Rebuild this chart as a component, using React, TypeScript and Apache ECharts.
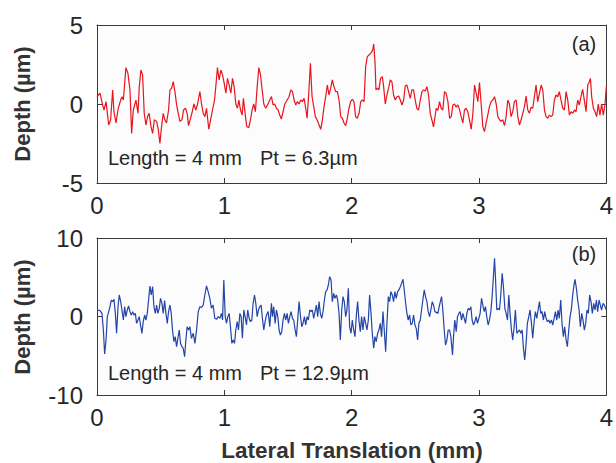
import React, { useEffect, useRef } from "react";
import * as echarts from "echarts";

// Profile (a): [lateral position (mm), depth (µm)]
const profileA: [number, number][] = [
  [0, 0.46], [0.024, 0.68], [0.044, -0.06], [0.055, -0.38], [0.071, 0.15], [0.092, -1.33], [0.107, -1.0], [0.123, 0.89], [0.133, -0.49], [0.149, -1.2],
  [0.167, -0.27], [0.186, 0.25], [0.196, 0.46], [0.207, 0.25], [0.227, 2.3], [0.243, 1.94], [0.259, 0.89], [0.272, -1.86], [0.285, -0.38], [0.306, 0.25],
  [0.322, -0.59], [0.332, 1.1], [0.345, 2.15], [0.358, 1.84], [0.371, -0.59], [0.384, -1.33], [0.397, -0.8], [0.41, -0.59], [0.424, -1.43], [0.437, -1.86],
  [0.45, -1.0], [0.468, -1.1], [0.481, -1.6], [0.494, -2.49], [0.507, -1.43], [0.52, -0.59], [0.533, -1.0], [0.546, -1.2], [0.562, -0.38], [0.573, 0.89],
  [0.586, 1.0], [0.599, 1.41], [0.612, 0.78], [0.625, -0.04], [0.638, -0.59], [0.651, -1.1], [0.667, -1.0], [0.68, -0.38], [0.695, -0.27], [0.708, -0.59],
  [0.719, -1.37], [0.735, -0.9], [0.748, -0.49], [0.761, 0], [0.776, -0.38], [0.79, 0], [0.808, 0.78], [0.821, 0], [0.834, -0.59], [0.847, -0.8],
  [0.86, -0.27], [0.878, -1.6], [0.892, -1.0], [0.907, -0.38], [0.923, 0.25], [0.933, 1.1], [0.946, 2.3], [0.959, 1.52], [0.973, 2.15], [0.986, 1.84],
  [0.999, 1.3], [1.012, 0.68], [1.025, 1.62], [1.038, 1.2], [1.051, 0.68], [1.064, 1.62], [1.077, 1.1], [1.09, 0], [1.103, -0.27], [1.114, 0.25],
  [1.127, -0.38], [1.14, -0.7], [1.15, 0.36], [1.163, -0.59], [1.176, -1.43], [1.192, -1.5], [1.205, -1.0], [1.218, -0.38], [1.231, 0], [1.244, -0.49],
  [1.258, 1.1], [1.271, 2.3], [1.284, 1.84], [1.297, 0.89], [1.31, 0], [1.325, -0.27], [1.339, -0.06], [1.357, 0.25],
  [1.37, 0.47], [1.383, -0.06], [1.396, 0], [1.409, -0.27], [1.422, -0.38], [1.435, -0.7], [1.448, -0.95], [1.461, -0.49], [1.475, 0], [1.493, 0.25],
  [1.508, 0.46], [1.522, 0.89], [1.535, 0.78], [1.548, 0.25], [1.561, -0.06], [1.574, 0.15], [1.587, 0], [1.6, 0.25], [1.613, 0.15], [1.626, 0.36],
  [1.639, -0.27], [1.65, -0.9], [1.663, 0.68], [1.676, 2.57], [1.689, 0.46], [1.702, -0.17], [1.715, -0.8], [1.728, -1.0], [1.744, -1.33], [1.757, -1.6],
  [1.77, -1.0], [1.783, -0.17], [1.796, 0.46], [1.809, 1.2], [1.822, 0.57], [1.835, 1.0], [1.848, 1.52], [1.861, 1.1], [1.875, 0.78], [1.888, 0.78],
  [1.901, 0.25], [1.914, -0.8], [1.927, -0.9], [1.94, -1.2], [1.953, -1.37], [1.966, -0.9], [1.979, -0.27], [1.992, 0.15], [2.005, 0.3], [2.018, 0.15],
  [2.031, -0.8], [2.044, -0.9], [2.058, -0.59], [2.071, 0.15], [2.084, 0.25], [2.097, 0.15], [2.11, 2.36], [2.123, 3.0], [2.136, 3.1], [2.149, 3.2],
  [2.159, 3.31], [2.167, 3.5], [2.173, 3.8], [2.183, 2.7], [2.191, 0.89], [2.204, 1.0], [2.214, 0.89], [2.227, 1.62], [2.241, 1.73], [2.251, 1.1],
  [2.264, 0], [2.277, 0.57], [2.29, 1.0], [2.303, 1.52], [2.316, 1.41], [2.329, 0.57], [2.342, 0.25], [2.356, 0.46], [2.369, 0.5], [2.382, 0.25],
  [2.395, -0.06], [2.408, 0.25], [2.421, 1.15], [2.434, 1.2], [2.447, 0.78], [2.46, 0.36], [2.473, 0.89], [2.486, 0.89], [2.499, 0.25], [2.512, -0.27],
  [2.525, -0.38], [2.539, 0.25], [2.552, 0.78], [2.565, 0.89], [2.578, 0.82], [2.591, 1.1], [2.604, 0.57], [2.617, -0.59], [2.63, -1.0], [2.643, -1.45],
  [2.651, -1.0], [2.664, -0.27], [2.677, -0.4], [2.69, 0.15], [2.703, -0.27], [2.716, -0.38], [2.729, 0.78], [2.742, 0.68], [2.756, 0.15], [2.769, -0.9],
  [2.782, -0.8], [2.795, -0.06], [2.808, 0], [2.821, -0.2], [2.834, -0.06], [2.847, -0.35], [2.86, -0.8], [2.873, -1.2], [2.886, -0.38], [2.899, -0.27],
  [2.912, -0.49], [2.925, -1.0], [2.939, -1.6], [2.952, -0.59], [2.965, 1.2], [2.978, 0.68], [2.991, 0.15], [3.004, 1.35], [3.017, 0], [3.03, -1.43],
  [3.043, -1.75], [3.056, -1.2], [3.069, -0.7], [3.082, -0.17], [3.095, 0.15], [3.108, 0.25], [3.122, 0.46], [3.135, 0], [3.148, -0.8], [3.161, -1.0],
  [3.174, -1.1], [3.187, -1.0], [3.2, -1.37], [3.213, -0.8], [3.226, 0.25], [3.239, 0], [3.252, -0.8], [3.265, -0.49], [3.278, 0.15], [3.292, 0.25],
  [3.305, -0.8], [3.318, -1.33], [3.331, -1.0], [3.344, -0.59], [3.357, -0.17], [3.37, 0.5], [3.383, -0.38], [3.396, -0.59], [3.409, -0.2], [3.422, -0.27],
  [3.435, 0.46], [3.448, 1.2], [3.461, 0.15], [3.475, 0.68], [3.488, 1.2], [3.501, 0.89], [3.514, -0.38], [3.527, -0.8], [3.54, -0.9], [3.553, -0.7],
  [3.566, -0.8], [3.579, -0.7], [3.592, 0.25], [3.605, 0.57], [3.618, 0.46], [3.631, 0.78], [3.644, 0.25], [3.658, -0.27], [3.671, -0.38], [3.684, 0.78],
  [3.697, 0.25], [3.71, -0.7], [3.723, -0.49], [3.736, -0.59], [3.749, -0.38], [3.762, -0.49], [3.775, 0.25], [3.788, -0.06], [3.801, 0.46], [3.814, 0.92],
  [3.827, 0.25], [3.841, -0.49], [3.854, 1.2], [3.867, 1.41], [3.875, 1.62], [3.885, 0.46], [3.898, -0.27], [3.911, -0.49], [3.924, -0.8], [3.937, 0],
  [3.95, -0.7], [3.963, 0], [3.976, -0.7], [3.99, 0], [4.0, 1.1],
];

// Profile (b): [lateral position (mm), depth (µm)]
const profileB: [number, number][] = [
  [0, 0.83], [0.024, 0.74], [0.039, 0.4], [0.05, -1.72], [0.06, -4.78], [0.071, -3.0], [0.081, -0.02], [0.092, 0.62], [0.102, 1.25], [0.112, 2.1],
  [0.123, 1.89], [0.133, 2.19], [0.144, 0.4], [0.154, -2.14], [0.165, 1.25], [0.175, 2.74], [0.186, 1.89], [0.196, 0.83], [0.207, -0.45], [0.217, 1.25],
  [0.227, -0.02], [0.238, 0.83], [0.248, 1.34], [0.259, 0.62], [0.269, 0.19], [0.28, 0.62], [0.29, 0.19], [0.301, 0.4], [0.311, -0.87], [0.322, -0.45],
  [0.332, -0.02], [0.342, -1.08], [0.353, -2.14], [0.363, -0.66], [0.374, 0.19], [0.384, -0.45], [0.395, 0.4], [0.405, 2.1], [0.416, 3.89], [0.426, 2.74],
  [0.437, 3.8], [0.447, 1.25], [0.458, 0.4], [0.468, 1.46], [0.478, 0.4], [0.489, 1.04], [0.499, 2.31], [0.51, 1.68], [0.52, 0.4], [0.531, 2.02],
  [0.541, 0.4], [0.552, -0.87], [0.562, 0.62], [0.573, 1.46], [0.583, 0.4], [0.593, -1.72], [0.604, -3.21], [0.614, -2.57], [0.625, -3.84], [0.635, -2.78],
  [0.646, -1.72], [0.656, -3.42], [0.667, -3.84], [0.677, -4.05], [0.688, -5.12], [0.698, -3.0], [0.708, -1.3], [0.719, -1.72], [0.729, -1.3], [0.742, -2.78],
  [0.756, -2.14], [0.769, -3.42], [0.782, -1.72], [0.795, 0.62], [0.808, 1.25], [0.821, 1.17], [0.834, 1.46], [0.847, 2.74], [0.86, 3.89], [0.873, 3.16],
  [0.886, 2.31], [0.899, 1.04], [0.912, 1.46], [0.925, -0.23], [0.939, -0.36], [0.952, -0.02], [0.965, -0.23], [0.978, 0.4], [0.986, -0.45], [0.996, 4.65],
  [1.007, -0.02], [1.017, -0.87], [1.027, -0.02], [1.038, 0.4], [1.048, -1.3], [1.059, -3.42], [1.069, -3.0], [1.08, -3.42], [1.09, -1.72], [1.101, -0.66],
  [1.111, -1.72], [1.122, 0.4], [1.132, -0.02], [1.142, -2.78], [1.153, 0.83], [1.163, -0.02], [1.174, -1.08], [1.184, 0.83], [1.195, -0.23], [1.205, -0.66],
  [1.216, -0.45], [1.226, 1.68], [1.237, 2.74], [1.247, 1.68], [1.258, -0.02], [1.268, 0.83], [1.278, 1.25], [1.289, 1.46], [1.299, -0.23], [1.31, -1.72],
  [1.32, -0.66], [1.331, 0.19], [1.344, 0.62], [1.357, -1.3],
  [1.37, 1.68], [1.378, -0.02], [1.388, 1.25], [1.399, -0.87], [1.409, 0.83], [1.42, -0.02], [1.43, -1.72], [1.44, -2.36], [1.451, -1.93], [1.461, -0.45],
  [1.472, 0.4], [1.482, -0.45], [1.493, 0.4], [1.503, -0.87], [1.514, -0.02], [1.524, 0.62], [1.535, -0.23], [1.545, -0.45], [1.556, -1.72], [1.566, -2.57],
  [1.576, -0.45], [1.587, 1.89], [1.597, 0.19], [1.608, -1.3], [1.618, -0.87], [1.629, -0.02], [1.639, -1.08], [1.65, -0.02], [1.66, -0.45], [1.671, 0.83],
  [1.681, 0.62], [1.691, 0.83], [1.702, -0.23], [1.712, 0.62], [1.723, 1.46], [1.733, -0.02], [1.744, 1.89], [1.754, 0.4], [1.765, -0.23], [1.775, 0.62],
  [1.786, 2.1], [1.796, 3.16], [1.807, 3.38], [1.817, 4.01], [1.827, 5.07], [1.838, 4.65], [1.848, 1.89], [1.859, 2.95], [1.869, 2.31], [1.88, 2.74],
  [1.89, 2.1], [1.901, 0.4], [1.911, -3.0], [1.922, 0.83], [1.932, 2.53], [1.942, 1.89], [1.953, -0.02], [1.963, 0.83], [1.974, 3.59], [1.984, -1.3],
  [1.995, -2.14], [2.005, -0.45], [2.016, -1.72], [2.026, -2.57], [2.037, 0.19], [2.047, 1.89], [2.058, -0.66], [2.068, -1.93], [2.078, -0.02], [2.089, -1.72],
  [2.099, -0.02], [2.11, -0.87], [2.12, -1.72], [2.131, -0.45], [2.141, 2.74], [2.152, 0.4], [2.162, -2.14], [2.173, -4.05], [2.183, -2.57], [2.193, -3.21],
  [2.204, -2.14], [2.214, -1.72], [2.225, -0.87], [2.235, -2.57], [2.246, 0.62], [2.256, -1.72], [2.267, -4.48], [2.277, -0.87], [2.288, 2.53], [2.298, 1.89],
  [2.308, 3.16], [2.319, 2.74], [2.329, 1.89], [2.34, 3.16], [2.35, 2.31], [2.361, 3.16], [2.371, 3.38], [2.382, 3.8], [2.392, 4.22], [2.403, 4.74],
  [2.413, 3.38], [2.424, 1.68], [2.434, 0.4], [2.444, -0.45], [2.455, 0.19], [2.465, -1.08], [2.476, -0.87], [2.486, 0.19], [2.497, -1.08], [2.507, -1.51],
  [2.518, -3.0], [2.528, -0.87], [2.539, -0.45], [2.549, 0.83], [2.559, 2.1], [2.57, 3.38], [2.58, 2.53], [2.591, 1.89], [2.601, 0.62], [2.612, -0.02],
  [2.622, 0.83], [2.633, 1.89], [2.643, 1.46], [2.654, 0.62],
  [2.677, 0.4], [2.69, 1.46], [2.706, 2.53], [2.716, 0.83], [2.727, -1.72], [2.737, -3.63], [2.748, -3.0], [2.758, -1.72], [2.769, -1.72], [2.779, -2.57],
  [2.792, -4.9], [2.8, -2.57], [2.81, -0.45], [2.821, -1.93], [2.831, -0.02], [2.842, 0.4], [2.852, 0.62], [2.863, -0.45], [2.873, 0.4], [2.884, -0.23],
  [2.894, -0.87], [2.905, 0.4], [2.915, 1.04], [2.925, 0.83], [2.936, 1.25], [2.946, -0.45], [2.957, -1.08], [2.967, -0.66], [2.978, -0.02], [2.988, -0.87],
  [2.999, -0.23], [3.009, 0.4], [3.02, 2.31], [3.03, 1.46], [3.041, 0.62], [3.051, 1.25], [3.061, -0.02], [3.072, -1.08], [3.082, -0.45], [3.093, 0.62],
  [3.103, 2.53], [3.114, 5.29], [3.122, 7.41], [3.129, 5.07], [3.14, 0.83], [3.15, 1.04], [3.161, 0.83], [3.171, 2.74], [3.182, 5.5], [3.192, 3.8],
  [3.203, 1.04], [3.213, 0.4], [3.224, -0.45], [3.234, 2.74], [3.244, 0.4], [3.255, -1.72], [3.265, -3.0], [3.276, -1.3], [3.286, 0.83], [3.297, -2.14],
  [3.307, -1.93], [3.318, -1.72], [3.329, -2.14], [3.339, -1.72], [3.349, -4.05], [3.359, -5.54], [3.37, -3.42], [3.38, -0.87], [3.391, -0.02], [3.401, 0.83],
  [3.412, -0.87], [3.422, -2.78], [3.433, -0.66], [3.443, 0.62], [3.454, -0.23], [3.464, 0.83], [3.475, 1.89], [3.485, 0.4], [3.495, 0.62], [3.506, -0.45],
  [3.516, 0.62], [3.527, -0.23], [3.537, -0.66], [3.548, -0.45], [3.558, -0.87], [3.569, -0.45], [3.579, -1.08], [3.59, -0.23], [3.6, 0.62], [3.611, -0.45],
  [3.621, 0.83], [3.631, -0.23], [3.642, 2.1], [3.652, -0.87], [3.663, -2.57], [3.673, -1.3], [3.684, -3.0], [3.694, -3.84], [3.705, -1.72], [3.715, -0.02],
  [3.725, 0.83], [3.736, 2.74], [3.746, 4.01], [3.754, 4.74], [3.765, 3.59], [3.775, 2.1], [3.786, 0.83], [3.796, -1.3], [3.807, 0.4], [3.817, -0.45],
  [3.827, -1.72], [3.838, -0.87], [3.848, 0.83], [3.859, 0.4], [3.869, 2.74], [3.88, 1.89], [3.89, 0.4], [3.901, 1.68], [3.911, 0.83], [3.922, 2.1],
  [3.932, 0.62], [3.943, 2.1], [3.953, 1.46], [3.963, 0.83], [3.974, 1.68], [3.984, 1.46], [4.0, 0.83],
];

const xRange = { min: 0, max: 4, interval: 1 };
const yRangeA = { min: -5, max: 5, interval: 5 };
const yRangeB = { min: -10, max: 10, interval: 10 };
const annotationsA = ["Length = 4 mm", "Pt = 6.3µm", "(a)"];
const annotationsB = ["Length = 4 mm", "Pt = 12.9µm", "(b)"];
const yTitle = "Depth (µm)";
const xTitle = "Lateral Translation (mm)";

const FONT = "'Liberation Sans', Arial, Helvetica, sans-serif";
const AXIS_COLOR = "#3a3a3a";
const TEXT_COLOR = "#262626";

export default function App() {
  const ref = useRef<HTMLDivElement>(null);

  useEffect(() => {
    if (!ref.current) return;
    const chart = echarts.init(ref.current, undefined, { renderer: "svg" });

    const xAxisBase = (gridIndex: number, position: "top" | "bottom", labels: boolean) => ({
      type: "value",
      gridIndex,
      position,
      ...xRange,
      axisLine: { show: true, onZero: false, lineStyle: { color: AXIS_COLOR, width: 1 } },
      axisTick: { show: true, inside: true, length: 5, lineStyle: { color: AXIS_COLOR } },
      axisLabel: {
        show: labels,
        fontSize: 24,
        fontFamily: FONT,
        color: TEXT_COLOR,
        margin: 10,
      },
      splitLine: { show: false },
    });
    const yAxisBase = (gridIndex: number, position: "left" | "right", labels: boolean, r: any) => ({
      type: "value",
      gridIndex,
      position,
      ...r,
      axisLine: { show: true, onZero: false, lineStyle: { color: AXIS_COLOR, width: 1 } },
      axisTick: { show: true, inside: true, length: 5, lineStyle: { color: AXIS_COLOR } },
      axisLabel: {
        show: labels,
        fontSize: 24,
        fontFamily: FONT,
        color: TEXT_COLOR,
        margin: 14,
      },
      splitLine: { show: false },
    });

    const txt = (text: string, x: number, y: number, opts: any = {}) => ({
      type: "text",
      x,
      y,
      rotation: opts.rotation || 0,
      style: {
        text,
        fill: opts.color || TEXT_COLOR,
        font: `${opts.weight || "normal"} ${opts.size || 20}px ${FONT}`,
        textAlign: opts.align || "left",
        textVerticalAlign: "middle",
      },
      z: 10,
    });

    chart.setOption({
      animation: false,
      backgroundColor: "#ffffff",
      grid: [
        { left: 97, top: 25, width: 510, height: 158, show: true, backgroundColor: "#fcfcfc", borderWidth: 0 },
        { left: 97, top: 238, width: 510, height: 157, show: true, backgroundColor: "#fcfcfc", borderWidth: 0 },
      ],
      xAxis: [
        xAxisBase(0, "bottom", true),
        xAxisBase(0, "top", false),
        xAxisBase(1, "bottom", true),
        xAxisBase(1, "top", false),
      ],
      yAxis: [
        yAxisBase(0, "left", true, yRangeA),
        yAxisBase(0, "right", false, yRangeA),
        yAxisBase(1, "left", true, yRangeB),
        yAxisBase(1, "right", false, yRangeB),
      ],
      series: [
        {
          type: "line",
          xAxisIndex: 0,
          yAxisIndex: 0,
          data: profileA,
          showSymbol: false,
          symbol: "none",
          lineStyle: { color: "#e8141e", width: 1.2 },
          clip: true,
        },
        {
          type: "line",
          xAxisIndex: 2,
          yAxisIndex: 2,
          data: profileB,
          showSymbol: false,
          symbol: "none",
          lineStyle: { color: "#2444a8", width: 1.2 },
          clip: true,
        },
      ],
      graphic: [
        txt(yTitle, 22, 104, { rotation: Math.PI / 2, weight: "bold", size: 22, align: "center", color: "#333333" }),
        txt(yTitle, 22, 317, { rotation: Math.PI / 2, weight: "bold", size: 22, align: "center", color: "#333333" }),
        txt(xTitle, 352, 450, { weight: "bold", size: 22.5, align: "center", color: "#333333" }),
        txt(annotationsA[0], 108, 158, { size: 20 }),
        txt(annotationsA[1], 260, 158, { size: 20 }),
        txt(annotationsA[2], 584, 44, { size: 20, align: "center" }),
        txt(annotationsB[0], 108, 373, { size: 20 }),
        txt(annotationsB[1], 260, 373, { size: 20 }),
        txt(annotationsB[2], 584, 254, { size: 20, align: "center" }),
      ],
    });

    return () => chart.dispose();
  }, []);

  return (
    <div
      ref={ref}
      style={{ position: "fixed", left: 0, top: 0, width: 616, height: 463, background: "#fff" }}
    />
  );
}
